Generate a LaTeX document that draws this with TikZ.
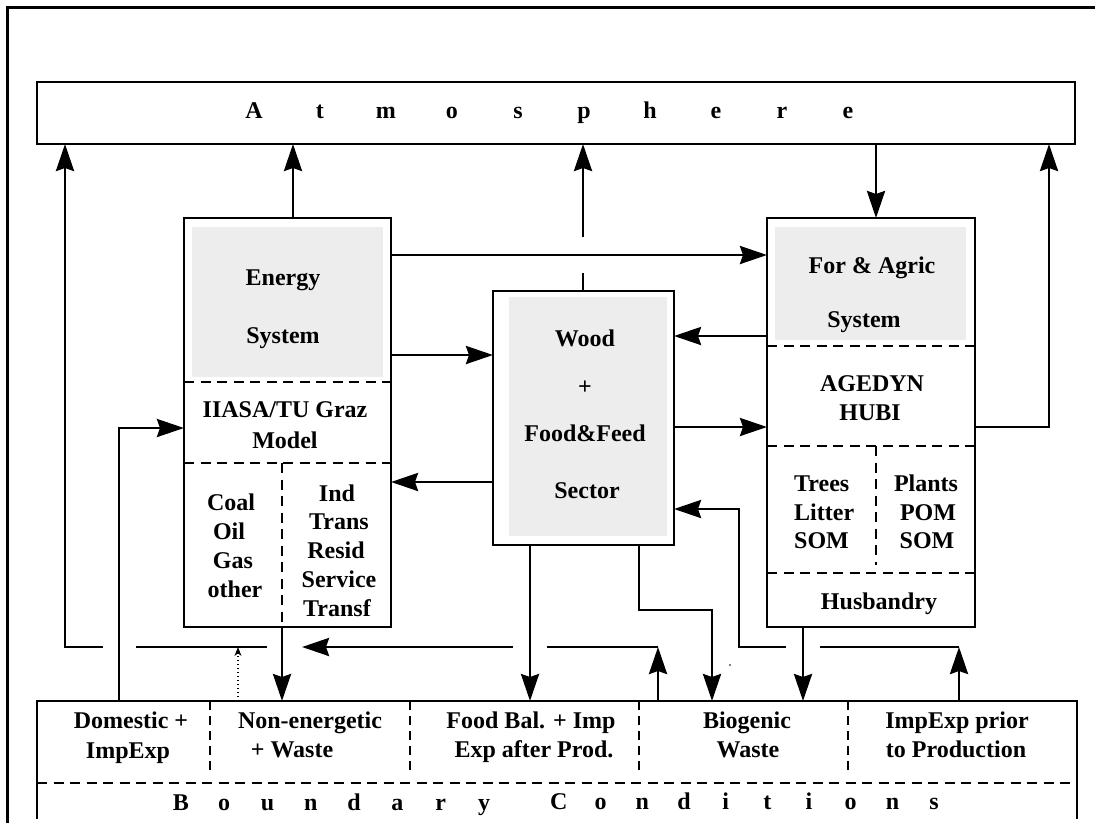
\documentclass[tikz,border=0pt]{standalone}
\usepackage{fontspec}
\setmainfont{Liberation Serif}
\usetikzlibrary{arrows.meta}
\newcommand\lsp[2]{\makebox[#1]{#2}}
\begin{document}
\begin{tikzpicture}[x=1pt,y=-1pt,
  box/.style={draw, line width=1.5pt, inner sep=0pt, outer sep=0pt},
  shade/.style={fill=black!7},
  dsh/.style={line width=1.7pt, dash pattern=on 10pt off 6.5pt},
  ln/.style={line width=2.9pt},
  arr/.style={line width=2.9pt, -{Stealth[length=27pt,width=18pt,inset=3pt]}},
  dotarr/.style={line width=1.2pt, dash pattern=on 1.5pt off 2.5pt, -{Stealth[length=9pt,width=7pt]}},
  txt/.style={font=\fontsize{24}{29}\selectfont\bfseries, inner sep=0pt, anchor=base},
  txtl/.style={txt, anchor=base west}]
\useasboundingbox (0,0) rectangle (1095,823);
% outer frame
\draw[line width=3pt] (7,823) -- (7,7) -- (1095,7);
% shaded areas
\fill[shade] (192,227) rectangle (383,377);
\fill[shade] (509,297) rectangle (667,536);
\fill[shade] (775,227) rectangle (966,340);
% boxes
\node[box, minimum width=1038pt, minimum height=62pt] (atm) at (556,113) {};
\node[box, minimum width=207pt, minimum height=409pt] (energy) at (287.5,422.5) {};
\node[box, minimum width=181pt, minimum height=254pt] (wood) at (583.5,418) {};
\node[box, minimum width=208pt, minimum height=409pt] (agric) at (871,422.5) {};
\node[inner sep=0pt, outer sep=0pt, minimum width=1040pt, minimum height=118pt] (bnd) at (557,760) {};
\draw[line width=1.5pt] (bnd.south west) -- (bnd.north west) -- (bnd.north east) -- (bnd.south east);
% internal dashed lines
\draw[dsh] (184,382) -- (391,382);
\draw[dsh] (184,463) -- (391,463);
\draw[dsh] (282,463) -- (282,627);
\draw[dsh] (767,346) -- (975,346);
\draw[dsh] (767,446) -- (975,446);
\draw[dsh] (876,446) -- (876,565);
\draw[dsh] (767,573) -- (975,573);
\draw[dsh] (37,783) -- (1077,783);
\foreach \xx in {210,410,639,848} \draw[dsh, dash pattern=on 9pt off 6pt] (\xx,701) -- (\xx,775);
% texts
\node[txt] (tatm) at (551,118) {\lsp{66pt}{A}\lsp{66pt}{t}\lsp{66pt}{m}\lsp{66pt}{o}\lsp{66pt}{s}\lsp{66pt}{p}\lsp{66pt}{h}\lsp{66pt}{e}\lsp{66pt}{r}\lsp{66pt}{e}};
\node[txt] (t1) at (283,285) {Energy};
\node[txt] (t2) at (283,343) {System};
\node[txt] (t3) at (285,417) {IIASA/TU Graz};
\node[txt] (t4) at (285,448) {Model};
\node[txt] (t5) at (231,510) {Coal};
\node[txt] (t6) at (229,539) {Oil};
\node[txt] (t7) at (233,568) {Gas};
\node[txt] (t8) at (235,597) {other};
\node[txt] (t9) at (337,501) {Ind};
\node[txt] (t10) at (339,529) {Trans};
\node[txt] (t11) at (336,558) {Resid};
\node[txt] (t12) at (339,587) {Service};
\node[txt] (t13) at (337,616) {Transf};
\node[txt] (w1) at (585,346) {Wood};
\node[txt] (w2) at (585,394) {+};
\node[txt] (w3) at (585,441) {Food\&Feed};
\node[txt] (w4) at (587,498) {Sector};
\node[txt] (a1) at (872,273) {For \& Agric};
\node[txt] (a2) at (864,327) {System};
\node[txt] (a3) at (872,391) {AGEDYN};
\node[txt] (a4) at (870,420) {HUBI};
\node[txtl] (a5) at (794,491) {Trees};
\node[txtl] (a6) at (794,520) {Litter};
\node[txtl] (a7) at (794,548) {SOM};
\node[txt] (a8) at (926,491) {Plants};
\node[txt] (a9) at (928,520) {POM};
\node[txt] (a10) at (927,548) {SOM};
\node[txt] (a11) at (879,609) {Husbandry};
\node[txt] (b1) at (131,728) {Domestic +};
\node[txt] (b2) at (128,758) {ImpExp};
\node[txt] (b3) at (310,728) {Non-energetic};
\node[txt] (b4) at (292,757) {+ Waste};
\node[txt] (b5) at (531,728) {Food Bal. + Imp};
\node[txt] (b6) at (534,757) {Exp after Prod.};
\node[txt] (b7) at (747,728) {Biogenic};
\node[txt] (b8) at (748,757) {Waste};
\node[txt] (b9) at (957,728) {ImpExp prior};
\node[txt] (b10) at (956,757) {to Production};
\node[txt] (bc1) at (332.5,810) {\lsp{43.3pt}{B}\lsp{43.3pt}{o}\lsp{43.3pt}{u}\lsp{43.3pt}{n}\lsp{43.3pt}{d}\lsp{43.3pt}{a}\lsp{43.3pt}{r}\lsp{43.3pt}{y}};
\node[txt] (bc2) at (746.5,809) {\lsp{41.7pt}{C}\lsp{41.7pt}{o}\lsp{41.7pt}{n}\lsp{41.7pt}{d}\lsp{41.7pt}{i}\lsp{41.7pt}{t}\lsp{41.7pt}{i}\lsp{41.7pt}{o}\lsp{41.7pt}{n}\lsp{41.7pt}{s}};
% coordinates
\coordinate (hl) at (0,647);
\coordinate (xL) at (65,0);
\coordinate (xDom) at (119,0);
\coordinate (xDot) at (238,0);
\coordinate (xNE) at (282,0);
\coordinate (xEup) at (293,0);
\coordinate (xWF) at (530,0);
\coordinate (xWup) at (583,0);
\coordinate (xWB1) at (639,0);
\coordinate (xUp1) at (658,0);
\coordinate (xWB2) at (712,0);
\coordinate (xRet) at (739,0);
\coordinate (xHus) at (803,0);
\coordinate (xAtmA) at (876,0);
\coordinate (xUp2) at (959,0);
\coordinate (xR) at (1049,0);
\coordinate (yEA) at (0,255);
\coordinate (yEW) at (0,355);
\coordinate (yWE) at (0,482);
\coordinate (yAW) at (0,336);
\coordinate (yWA) at (0,427);
\coordinate (yII) at (0,428);
\coordinate (yRet) at (0,509);
\coordinate (yWB) at (0,610);
\coordinate (wg1) at (0,273);
\coordinate (wg2) at (0,237);
\coordinate (hA) at (267,647);
\coordinate (hB) at (136,647);
\coordinate (hC) at (103,647);
\coordinate (g1) at (547,647);
\coordinate (g2) at (513,647);
\coordinate (tip1) at (302,647);
\coordinate (g3) at (820,647);
\coordinate (g4) at (786,647);
% connectors
\draw[ln] (hA) -- (hB);
\draw[arr] (hC) -- (xL |- hl) -- (xL |- atm.south);
\draw[dotarr] (xDot |- bnd.north) -- (xDot |- hl);
\draw[arr] (xEup |- energy.north) -- (xEup |- atm.south);
\draw[arr] (energy.east |- yEA) -- (agric.west |- yEA);
\draw[arr] (energy.east |- yEW) -- (wood.west |- yEW);
\draw[arr] (wood.west |- yWE) -- (energy.east |- yWE);
\draw[ln] (xWup |- wood.north) -- (xWup |- wg1);
\draw[arr] (xWup |- wg2) -- (xWup |- atm.south);
\draw[arr] (xAtmA |- atm.south) -- (xAtmA |- agric.north);
\draw[arr] (agric.west |- yAW) -- (wood.east |- yAW);
\draw[arr] (wood.east |- yWA) -- (agric.west |- yWA);
\draw[arr] (agric.east |- yWA) -- (xR |- yWA) -- (xR |- atm.south);
\draw[arr] (xDom |- bnd.north) -- (xDom |- yII) -- (energy.west |- yII);
\draw[arr] (xNE |- energy.south) -- (xNE |- bnd.north);
\draw[arr] (xUp1 |- bnd.north) -- (xUp1 |- hl);
\draw[ln] (xUp1 |- hl) -- (g1);
\draw[arr] (g2) -- (tip1);
\draw[arr] (xWF |- wood.south) -- (xWF |- bnd.north);
\draw[arr] (xWB1 |- wood.south) -- (xWB1 |- yWB) -- (xWB2 |- yWB) -- (xWB2 |- bnd.north);
\draw[arr] (xHus |- agric.south) -- (xHus |- bnd.north);
\draw[arr] (xUp2 |- bnd.north) -- (xUp2 |- hl);
\draw[ln] (xUp2 |- hl) -- (g3);
\draw[arr] (g4) -- (xRet |- hl) -- (xRet |- yRet) -- (wood.east |- yRet);
\fill (730,665) circle (0.9pt);
\end{tikzpicture}
\end{document}
